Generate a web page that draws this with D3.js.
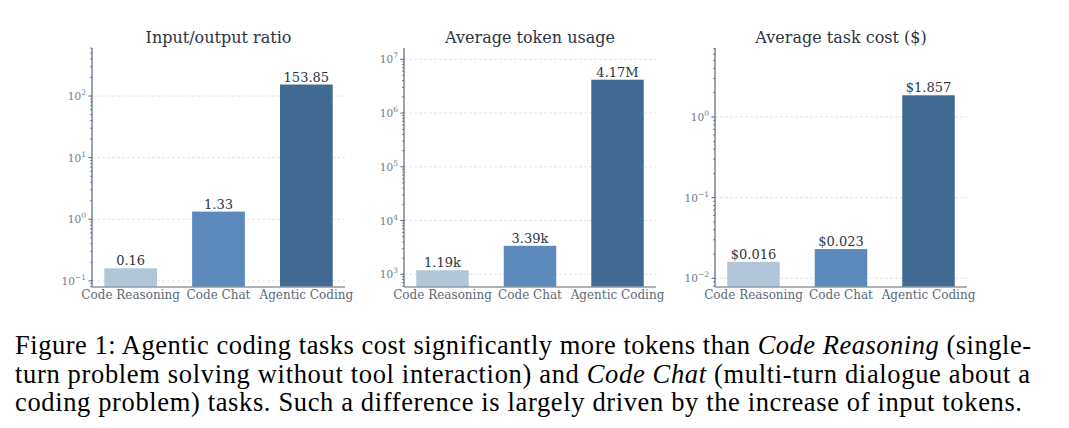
<!DOCTYPE html>
<html>
<head>
<meta charset="utf-8">
<script src="https://cdn.jsdelivr.net/npm/d3@7"></script>
<style>
  body { margin: 0; background: #fff; }
  svg { display: block; }
</style>
</head>
<body>
<svg id="fig" width="1069" height="428"></svg>
<script>
// data
var categories = ["Code Reasoning", "Code Chat", "Agentic Coding"];
var barColors = ["#b2c6da", "#5b89bc", "#416a93"];

var ratioValues = [0.16, 1.33, 153.85];
var ratioLabels = ["0.16", "1.33", "153.85"];
var ratioDecades = [-1, 0, 1, 2];

var tokenValues = [1190, 3390, 4170000];
var tokenLabels = ["1.19k", "3.39k", "4.17M"];
var tokenDecades = [3, 4, 5, 6, 7];

var costValues = [0.016, 0.023, 1.857];
var costLabels = ["$0.016", "$0.023", "$1.857"];
var costDecades = [-2, -1, 0];

var captionLines = [
	[["Figure 1: Agentic coding tasks cost significantly more tokens than ", false], ["Code Reasoning", true], [" (single-", false]],
	[["turn problem solving without tool interaction) and ", false], ["Code Chat", true], [" (multi-turn dialogue about a", false]],
	[["coding problem) tasks. Such a difference is largely driven by the increase of input tokens.", false]]
];

var svg = d3.select("#fig");
svg.append("rect").attr("width", 1069).attr("height", 428).attr("fill", "#fff");

var plotTop = 48, plotBottom = 287;

function panel(opt){
	var g = svg.append("g");

	var x = d3.scaleBand()
		.domain(categories)
		.range([opt.left, opt.right])
		.paddingInner(0.4)
		.paddingOuter(0.14);

	var y = d3.scaleLog()
		.domain(opt.domain)
		.range([plotBottom, plotTop]);

	// dashed grid at decades
	g.selectAll(".grid")
		.data(opt.decades)
		.enter().append("line")
		.attr("x1", opt.left).attr("x2", opt.right)
		.attr("y1", function(d){ return y(Math.pow(10, d)); })
		.attr("y2", function(d){ return y(Math.pow(10, d)); })
		.attr("stroke", "#dcdcdc")
		.attr("stroke-width", 0.8)
		.attr("stroke-dasharray", "3,2");

	// bars
	g.selectAll(".bar")
		.data(opt.values)
		.enter().append("rect")
		.attr("x", function(d, i){ return x(categories[i]); })
		.attr("width", x.bandwidth())
		.attr("y", function(d){ return y(d); })
		.attr("height", function(d){ return plotBottom - y(d); })
		.attr("fill", function(d, i){ return barColors[i]; });

	g.selectAll(".val")
		.data(opt.values)
		.enter().append("text")
		.attr("x", function(d, i){ return x(categories[i]) + x.bandwidth() / 2; })
		.attr("y", function(d){ return y(d) - 3; })
		.attr("text-anchor", "middle")
		.attr("font-family", "DejaVu Serif")
		.attr("font-size", 13)
		.attr("fill", "#2c3542")
		.text(function(d, i){ return opt.labels[i]; });

	// minor ticks on the left spine
	var lo = Math.floor(Math.log10(opt.domain[0])), hi = Math.ceil(Math.log10(opt.domain[1]));
	var minors = [];
	for (var e = lo; e <= hi; e++) {
		for (var m = 2; m <= 9; m++) {
			var v = m * Math.pow(10, e);
			if (v >= opt.domain[0] && v <= opt.domain[1]) minors.push(v);
		}
	}
	g.selectAll(".minor")
		.data(minors)
		.enter().append("line")
		.attr("x1", opt.left - 2).attr("x2", opt.left)
		.attr("y1", function(d){ return y(d); })
		.attr("y2", function(d){ return y(d); })
		.attr("stroke", "#333")
		.attr("stroke-width", 0.6);

	g.selectAll(".major")
		.data(opt.decades)
		.enter().append("line")
		.attr("x1", opt.left - 3.5).attr("x2", opt.left)
		.attr("y1", function(d){ return y(Math.pow(10, d)); })
		.attr("y2", function(d){ return y(Math.pow(10, d)); })
		.attr("stroke", "#333")
		.attr("stroke-width", 0.8);

	var lab = g.selectAll(".ylab")
		.data(opt.decades)
		.enter().append("text")
		.attr("x", opt.left - 6)
		.attr("y", function(d){ return y(Math.pow(10, d)) + 4; })
		.attr("text-anchor", "end")
		.attr("font-family", "DejaVu Serif")
		.attr("font-size", 10.5)
		.attr("fill", "#6d7987");
	lab.append("tspan").text("10");
	lab.append("tspan")
		.attr("dy", -5)
		.attr("font-size", 7.5)
		.text(function(d){ return d < 0 ? "\u2212" + (-d) : d; });

	// spines
	g.append("line")
		.attr("x1", opt.left).attr("x2", opt.left)
		.attr("y1", plotTop).attr("y2", plotBottom)
		.attr("stroke", "#55667a")
		.attr("stroke-width", 1.2);
	g.append("line")
		.attr("x1", opt.left).attr("x2", opt.right)
		.attr("y1", plotBottom).attr("y2", plotBottom)
		.attr("stroke", "#8d97a2")
		.attr("stroke-width", 1.6);

	g.selectAll(".xlab")
		.data(categories)
		.enter().append("text")
		.attr("x", function(d){ return x(d) + x.bandwidth() / 2; })
		.attr("y", 298.5)
		.attr("text-anchor", "middle")
		.attr("font-family", "DejaVu Serif")
		.attr("font-size", 12)
		.attr("fill", "#5d6875")
		.text(function(d){ return d; });

	g.append("text")
		.attr("x", (opt.left + opt.right) / 2)
		.attr("y", 43)
		.attr("text-anchor", "middle")
		.attr("font-family", "DejaVu Serif")
		.attr("font-size", 16)
		.attr("fill", "#2b3440")
		.text(opt.title);
}

panel({ title: "Input/output ratio", left: 92, right: 345,
	domain: [Math.pow(10, -1.1), Math.pow(10, 2.78)],
	values: ratioValues, labels: ratioLabels, decades: ratioDecades });

panel({ title: "Average token usage", left: 404, right: 656,
	domain: [Math.pow(10, 2.764), Math.pow(10, 7.21)],
	values: tokenValues, labels: tokenLabels, decades: tokenDecades });

panel({ title: "Average task cost ($)", left: 715, right: 967,
	domain: [Math.pow(10, -2.108), Math.pow(10, 0.855)],
	values: costValues, labels: costLabels, decades: costDecades });

// caption
var capWidths = [1016, 1015, 1007];
var capBase = [354, 382.5, 411];
captionLines.forEach(function(line, i){
	var t = svg.append("text")
		.attr("x", 15)
		.attr("y", capBase[i])
		.attr("font-family", "Liberation Serif")
		.attr("font-size", 26.5)
		.attr("fill", "#000")
		.attr("textLength", capWidths[i])
		.attr("lengthAdjust", "spacing");
	line.forEach(function(part){
		t.append("tspan")
			.attr("font-style", part[1] ? "italic" : "normal")
			.text(part[0]);
	});
});
</script>
</body>
</html>
